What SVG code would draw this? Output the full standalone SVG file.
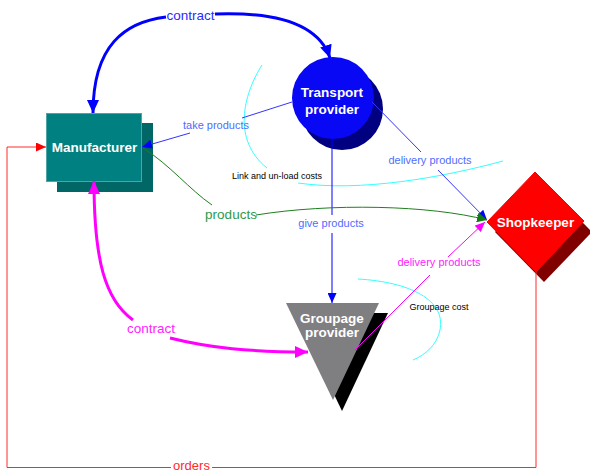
<svg xmlns="http://www.w3.org/2000/svg" width="590" height="473" viewBox="0 0 590 473">
  <style>
    .node-label { font-family: "Liberation Sans", Arial, sans-serif; font-size: 13.5px; font-weight: bold; fill: #ffffff; text-anchor: middle; }
    .lbl { font-family: "Liberation Sans", Arial, sans-serif; text-anchor: middle; }
    .big { font-size: 13.5px; }
    .small { font-size: 11px; }
    .tiny { font-size: 9px; fill: #000000; }
    .thin { fill: none; stroke-width: 1; }
    .thick { fill: none; stroke-width: 3; }
    .cost { fill: none; stroke: #33ffff; stroke-width: 1; }
  </style>
  <defs>
    <marker id="arrow-blue-big" markerUnits="userSpaceOnUse" markerWidth="14" markerHeight="12" refX="13" refY="6" orient="auto">
      <path d="M0,0 L13,6 L0,12 z" fill="#0000ff"/>
    </marker>
    <marker id="arrow-magenta-big" markerUnits="userSpaceOnUse" markerWidth="14" markerHeight="12" refX="13" refY="6" orient="auto">
      <path d="M0,0 L13,6 L0,12 z" fill="#ff00ff"/>
    </marker>
    <marker id="arrow-blue" markerUnits="userSpaceOnUse" markerWidth="11" markerHeight="9" refX="10" refY="4.5" orient="auto">
      <path d="M0,0 L10,4.5 L0,9 z" fill="#0000ff"/>
    </marker>
    <marker id="arrow-green" markerUnits="userSpaceOnUse" markerWidth="11" markerHeight="10" refX="10" refY="5" orient="auto">
      <path d="M0,0 L10,5 L0,10 z" fill="#137a13"/>
    </marker>
    <marker id="arrow-magenta" markerUnits="userSpaceOnUse" markerWidth="11" markerHeight="9" refX="10" refY="4.5" orient="auto">
      <path d="M0,0 L10,4.5 L0,9 z" fill="#ff00ff"/>
    </marker>
    <marker id="arrow-red" markerUnits="userSpaceOnUse" markerWidth="11" markerHeight="9" refX="10" refY="4.5" orient="auto">
      <path d="M0,0 L10,4.5 L0,9 z" fill="#ff0000"/>
    </marker>
  </defs>

  <rect width="590" height="473" fill="#ffffff"/>

  <!-- cost brackets -->
  <g id="costs">
    <path class="cost" d="M262,65 C243,95 232,140 267,168"/>
    <path class="cost" d="M298,183 C360,192 440,178 503,161"/>
    <text class="lbl tiny" x="277" y="179">Link and un-load costs</text>
    <path class="cost" d="M358,279 C410,282 446,300 440,330 C437,345 425,355 413,360"/>
    <text class="lbl tiny" x="439" y="310">Groupage cost</text>
  </g>

  <!-- nodes -->
  <g id="manufacturer">
    <rect x="57" y="123" width="96" height="69" fill="#006666"/>
    <rect x="46.5" y="113.5" width="95" height="68" fill="#008080" stroke="#4fa5a5" stroke-width="1"/>
    <text class="node-label" x="94.5" y="152">Manufacturer</text>
  </g>

  <g id="transport-provider">
    <circle cx="342" cy="109" r="41" fill="#000080"/>
    <circle cx="333" cy="98" r="41" fill="#0808f4"/>
    <text class="node-label" x="332" y="97">Transport</text>
    <text class="node-label" x="332" y="114">provider</text>
  </g>

  <g id="shopkeeper">
    <polygon points="543,182 592,232 544,282 495,232" fill="#800000"/>
    <polygon points="535,172 584,221 536,272 487,222" fill="#ff0000" stroke="#ff0000" stroke-width="1" stroke-linejoin="round"/>
    <text class="node-label" x="535.5" y="227">Shopkeeper</text>
  </g>

  <g id="groupage-provider">
    <polygon points="295,313 388,313 342,411" fill="#000000"/>
    <polygon points="286,303 379,303 333,400" fill="#7f7f82"/>
    <text class="node-label" x="332" y="323">Groupage</text>
    <text class="node-label" x="332" y="337">provider</text>
  </g>

  <!-- connectors -->
  <g id="connectors">
    <!-- contract: transport provider <-> manufacturer -->
    <path class="thick" stroke="#0000ff" d="M166,17 C125,22 93,45 93,113" marker-end="url(#arrow-blue-big)"/>
    <path class="thick" stroke="#0000ff" d="M215,14 C270,12 318,22 330,58" marker-end="url(#arrow-blue-big)"/>
    <text class="lbl big" x="190.5" y="20" fill="#2a2aff">contract</text>

    <!-- take products -->
    <path class="thin" stroke="#3333ff" d="M292,102 L242,118"/>
    <path class="thin" stroke="#3333ff" d="M190,133 L142,147" marker-end="url(#arrow-blue)"/>
    <text class="lbl small" x="216" y="129" fill="#4f6cff">take products</text>

    <!-- delivery products (transport) -->
    <path class="thin" stroke="#3333ff" d="M372,102 L421,152"/>
    <path class="thin" stroke="#3333ff" d="M438,170 L487,220" marker-end="url(#arrow-blue)"/>
    <text class="lbl small" x="430" y="164" fill="#4f6cff">delivery products</text>

    <!-- give products -->
    <path class="thin" stroke="#0000ff" d="M332,140 L332,215"/>
    <path class="thin" stroke="#0000ff" d="M332,233 L332,303" marker-end="url(#arrow-blue)"/>
    <text class="lbl small" x="331" y="227" fill="#4f6cff">give products</text>

    <!-- products -->
    <path class="thin" stroke="#1f7f1f" stroke-width="1.2" d="M143,148 C170,165 190,190 212,205"/>
    <path class="thin" stroke="#1f7f1f" stroke-width="1.2" d="M256,215 C330,203 430,205 487,220" marker-end="url(#arrow-green)"/>
    <text class="lbl big" x="231" y="219" fill="#2e9a4a">products</text>

    <!-- delivery products (groupage) -->
    <path class="thin" stroke="#ff00ff" d="M355,350 L430,275"/>
    <path class="thin" stroke="#ff00ff" d="M448,257 L485,222" marker-end="url(#arrow-magenta)"/>
    <text class="lbl small" x="439" y="266" fill="#ff22ff">delivery products</text>

    <!-- contract: manufacturer <-> groupage provider -->
    <path class="thick" stroke="#ff00ff" d="M133,320 C105,300 94,260 94,181" marker-end="url(#arrow-magenta-big)"/>
    <path class="thick" stroke="#ff00ff" d="M170,338 C210,348 250,352 308,352" marker-end="url(#arrow-magenta-big)"/>
    <text class="lbl big" x="151" y="333" fill="#ff22ff">contract</text>

    <!-- orders -->
    <path class="thin" stroke="#ff2a2a" d="M536,272 V467.5 H212"/>
    <path class="thin" stroke="#ff2a2a" d="M171,467.5 H7 V147 H46" marker-end="url(#arrow-red)"/>
    <text class="lbl" font-size="13px" x="191.5" y="470" fill="#ff2a2a">orders</text>
  </g>
</svg>
